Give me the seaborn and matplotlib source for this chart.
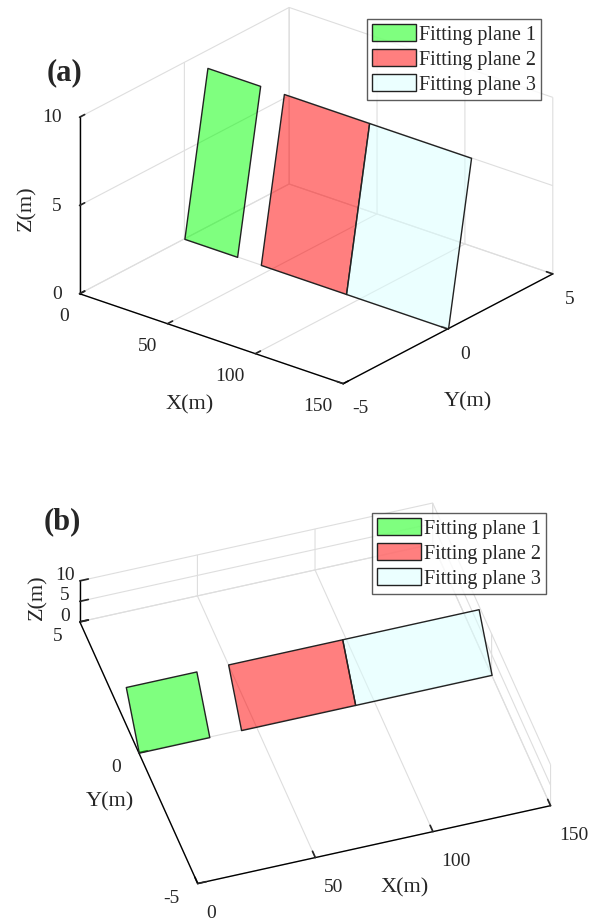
import matplotlib
matplotlib.use("Agg")
import matplotlib.pyplot as plt
import seaborn as sns
from matplotlib.colors import to_rgba
from matplotlib.patches import Patch
from mpl_toolkits.mplot3d.art3d import Poly3DCollection

# fitted planes: x extent, y and z at the bottom edge and the top edge
plane_names = ["Fitting plane 1", "Fitting plane 2", "Fitting plane 3"]
x_start = [0, 43.5, 92]
x_end = [30, 92, 150]
y_bottom = [0, 0, 0]
y_top = [1.1, 1.1, 1.1]
z_bottom = [0, 0, 0]
z_top = [9, 9, 9]
plane_colors = ["#00FF00", "#FF0000", "#D9FFFF"]

x_ticks = [0, 50, 100, 150]
y_ticks = [-5, 0, 5]
z_ticks = [0, 5, 10]

sns.set_theme(style="white")
plt.rcParams["font.family"] = ["Liberation Serif", "DejaVu Serif"]
plt.rcParams["axes.unicode_minus"] = False

W, H = 594, 919
fig = plt.figure(figsize=(W / 100, H / 100), dpi=100)


def px_text(x, y, s, **kw):
    fig.text(x / W, 1 - y / H, s, ha="center", va="center", **kw)


def draw_panel(rect, elev, azim, aspect, zoom, zpos, tpads, aligns):
    ax = fig.add_axes(rect, projection="3d", proj_type="ortho")
    for x0, x1, yb, yt, zb, zt, c in zip(x_start, x_end, y_bottom, y_top,
                                         z_bottom, z_top, plane_colors):
        verts = [[(x0, yb, zb), (x1, yb, zb), (x1, yt, zt), (x0, yt, zt)]]
        poly = Poly3DCollection(verts, facecolors=[to_rgba(c, 0.5)],
                                edgecolors="#222222", linewidths=1.0)
        ax.add_collection3d(poly)

    ax.set_xlim(0, 150)
    ax.set_ylim(-5, 5)
    ax.set_zlim(0, 10)
    ax.set_xticks(x_ticks)
    ax.set_yticks(y_ticks)
    ax.set_zticks(z_ticks)
    ax.tick_params(labelsize=14)
    ax.xaxis.set_tick_params(pad=tpads[0])
    ax.yaxis.set_tick_params(pad=tpads[1])
    ax.zaxis.set_tick_params(pad=tpads[2])
    ax.set_box_aspect(aspect, zoom=zoom)
    ax.view_init(elev=elev, azim=azim)
    ax.zaxis.set_ticks_position(zpos)

    for lbl in ax.get_xticklabels():
        lbl.set_ha(aligns[0])
    for lbl in ax.get_yticklabels():
        lbl.set_ha(aligns[1])
    for lbl in ax.get_zticklabels():
        lbl.set_ha(aligns[2])
        lbl.set_va("center")

    for axis in (ax.xaxis, ax.yaxis, ax.zaxis):
        axis.set_pane_color((1, 1, 1, 0))
        axis.pane.set_edgecolor("#dcdcdc")
        axis.line.set_color("black")
        axis.line.set_linewidth(1.0)
        axis._axinfo["grid"]["color"] = "#dedede"
        axis._axinfo["grid"]["linewidth"] = 0.8
        axis._axinfo["tick"]["inward_factor"] = 0.0
        axis._axinfo["tick"]["outward_factor"] = 0.3
    ax.grid(True)
    return ax


def add_legend(x, y):
    handles = [Patch(facecolor=to_rgba(c, 0.5), edgecolor="#222222", label=n)
               for n, c in zip(plane_names, plane_colors)]
    leg = fig.legend(handles=handles, loc="upper left", bbox_to_anchor=(x / W, 1 - y / H),
                     fontsize=14.5, frameon=True, fancybox=False, edgecolor="#333333",
                     handlelength=2.2, handleheight=0.95, handletextpad=0.15,
                     labelspacing=0.22, borderpad=0.25, borderaxespad=0)
    leg.get_frame().set_linewidth(1.0)


# (a) oblique view
draw_panel([0.0227, 0.551, 1.0, 0.46], 25, -51.1, (1, 0.985, 0.575), 1.18,
           "lower", (0, 2, -2), ("right", "center", "right"))
add_legend(367, 19)
px_text(65, 73, "(a)", fontsize=22, fontweight="bold")
px_text(190, 405, "X(m)", fontsize=16)
px_text(468, 402, "Y(m)", fontsize=16)
px_text(27, 208, "Z(m)", fontsize=16, rotation=90)

# (b) steep view from above
draw_panel([0.021, 0.0094, 1.0, 0.46], 44.4, -107.5, (1, 1.06, 0.155), 1.245,
           "default", (3, 0, -3), ("left", "right", "center"))
add_legend(372, 513)
px_text(62, 522, "(b)", fontsize=22, fontweight="bold")
px_text(405, 888, "X(m)", fontsize=16)
px_text(110, 802, "Y(m)", fontsize=16)
px_text(38, 597, "Z(m)", fontsize=16, rotation=90)

fig.savefig("out.png", dpi=100)
